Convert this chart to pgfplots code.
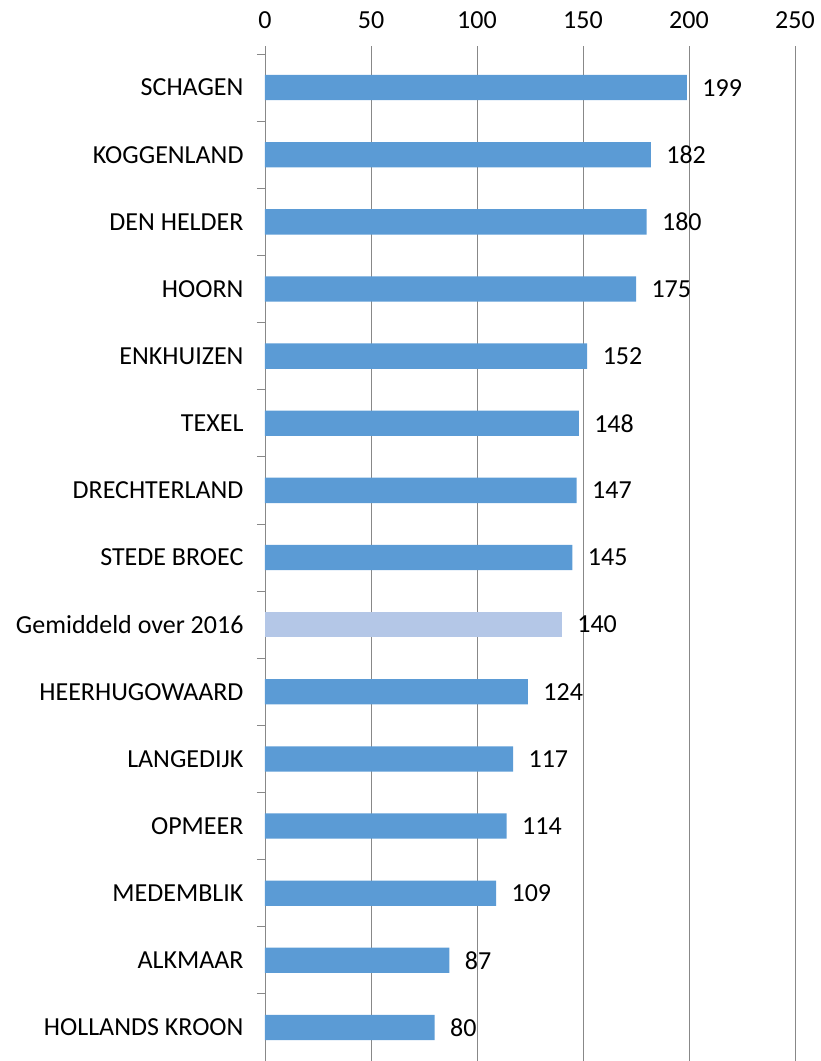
\documentclass[border=0pt]{standalone}
\usepackage{fontspec}
\setmainfont{Carlito}
\usepackage{pgfplots}
\pgfplotsset{compat=1.18}
\definecolor{barblue}{HTML}{5B9BD5}
\definecolor{barlight}{HTML}{B4C7E7}
\definecolor{gridgray}{HTML}{888888}
\newcommand{\chartfont}{\fontsize{26}{31}\selectfont}
\begin{document}
\begin{tikzpicture}[font=\chartfont]
\begin{axis}[
    at={(265pt,0pt)}, anchor=south west,
    scale only axis, width=530pt, height=1007pt,
    xbar, bar shift=0pt, bar width=0.377,
    xmin=0, xmax=250, xtick={0,50,...,250},
    ymin=-0.5, ymax=14.5, y dir=reverse,
    axis line style={draw=none},
    xmajorgrids, grid style={gridgray, line width=0.8pt},
    xtick pos=right, xticklabel pos=right,
    ytick pos=left,
    tick align=outside, major tick length=8pt,
    tick style={gridgray, line width=0.8pt},
    xticklabel style={yshift=14pt},
    ytick={-0.5,0.5,...,14.5}, yticklabel={\relax},
    extra y ticks={0,1,...,14},
    extra y tick labels={SCHAGEN,KOGGENLAND,DEN HELDER,HOORN,ENKHUIZEN,TEXEL,DRECHTERLAND,STEDE BROEC,Gemiddeld over 2016,HEERHUGOWAARD,LANGEDIJK,OPMEER,MEDEMBLIK,ALKMAAR,HOLLANDS KROON},
    extra y tick style={major tick length=0pt, yticklabel style={xshift=-18pt}},
    /pgf/number format/assume math mode=true,
    point meta=x,
    nodes near coords,
    every node near coord/.append style={anchor=west, xshift=12pt, black},
]
\addplot[fill=barblue, draw=none] coordinates {
  (199,0) (182,1) (180,2) (175,3) (152,4) (148,5) (147,6) (145,7)
  (124,9) (117,10) (114,11) (109,12) (87,13) (80,14)
};
\addplot[fill=barlight, draw=none] coordinates {(140,8)};
\end{axis}
\pgfresetboundingbox
\useasboundingbox (0,0) rectangle (821pt,1061pt);
\end{tikzpicture}
\end{document}
